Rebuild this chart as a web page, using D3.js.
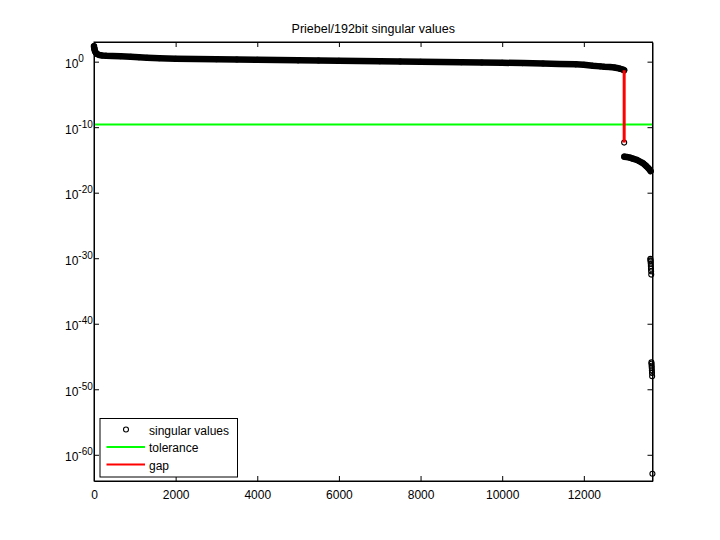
<!DOCTYPE html>
<html>
<head>
<meta charset="utf-8">
<script src="https://cdn.jsdelivr.net/npm/d3@7"></script>
<style>
  body { margin: 0; background: #fff; }
  text { font-family: "Liberation Sans", Arial, sans-serif; font-size: 12px; fill: #000; }
</style>
</head>
<body>
<svg id="chart" width="720" height="540"></svg>
<script>
// singular values (index, log10 of value)
var mainIdx = [0, 3, 8, 15, 25, 40, 60, 90, 130, 200, 300, 450, 650, 900, 1100, 1300, 1600, 2000, 2500, 3000,
  3500, 4000, 4500, 5000, 5500, 6000, 6500, 7000, 7500, 8000, 8500, 9000, 9500, 10000, 10500, 11000,
  11400, 11800, 12000, 12220, 12400, 12500, 12640, 12750, 12810, 12890, 12950, 12987];
var mainLog = [2.35, 2.2, 2.0, 1.8, 1.6, 1.4, 1.25, 1.12, 1.02, 0.95, 0.9, 0.86, 0.82, 0.75, 0.68, 0.6, 0.52, 0.45, 0.4, 0.37,
  0.34, 0.3, 0.25, 0.2, 0.17, 0.14, 0.1, 0.06, 0.02, -0.02, -0.06, -0.1, -0.13, -0.17, -0.22, -0.29,
  -0.35, -0.41, -0.47, -0.63, -0.72, -0.78, -0.83, -0.9, -0.96, -1.08, -1.2, -1.31];
var gapIdx = 12988, gapLog = -12.35;
var tailIdx = [12992, 13050, 13127, 13200, 13300, 13360, 13420, 13460, 13495, 13530, 13570, 13600, 13635];
var tailLog = [-14.5, -14.55, -14.65, -14.8, -15.0, -15.2, -15.4, -15.55, -15.75, -15.95, -16.2, -16.4, -16.7];
// the few smallest values, separate from the dense runs
var lowIdx = [13630, 13633, 13636, 13639, 13642, 13645, 13648, 13651,
  13655, 13658, 13661, 13664, 13667, 13670, 13673, 13680];
var lowLog = [-30.1, -30.3, -30.5, -30.8, -31.2, -31.6, -32.0, -32.5,
  -45.9, -46.1, -46.4, -46.7, -47.1, -47.5, -48.0, -62.9];
var tolLog = -9.6;
var nValues = 13682;
var xTicks = [0, 2000, 4000, 6000, 8000, 10000, 12000];
var yTickExp = [0, -10, -20, -30, -40, -50, -60];

var svg = d3.select("#chart"),
  margin = { top: 42, right: 67.5, bottom: 59, left: 94 },
  width = +svg.attr("width"),
  height = +svg.attr("height"),
  domainwidth = width - margin.left - margin.right,
  domainheight = height - margin.top - margin.bottom;

var x = d3.scaleLinear()
  .domain([0, nValues])
  .range([0, domainwidth]);
var y = d3.scaleLog()
  .domain([1e-64, 1e3])
  .range([domainheight, 0]);

function zip(ix, lg) {
  return ix.map(function (d, i) { return { i: d, v: Math.pow(10, lg[i]) }; });
}
var mainPts = zip(mainIdx, mainLog),
  tailPts = zip(tailIdx, tailLog),
  lowPts = zip(lowIdx, lowLog),
  gapPt = { i: gapIdx, v: Math.pow(10, gapLog) };

var g = svg.append("g")
  .attr("transform", "translate(" + margin.left + "," + margin.top + ")");

g.append("rect")
  .attr("width", domainwidth)
  .attr("height", domainheight)
  .attr("fill", "#fff");

// thousands of overlapping markers look like one thick black band
var band = d3.line()
  .x(function (d) { return x(d.i); })
  .y(function (d) { return y(d.v); });

[mainPts, tailPts].forEach(function (pts) {
  g.append("path")
    .attr("d", band(pts))
    .attr("fill", "none")
    .attr("stroke", "#000")
    .attr("stroke-width", 6.5)
    .attr("stroke-linecap", "round")
    .attr("stroke-linejoin", "round");
});

g.selectAll("circle.sv")
  .data(mainPts.concat([gapPt], tailPts, lowPts))
  .enter().append("circle")
  .attr("class", "sv")
  .attr("r", 2.5)
  .attr("cx", function (d) { return x(d.i); })
  .attr("cy", function (d) { return y(d.v); })
  .attr("fill", "none")
  .attr("stroke", "#000")
  .attr("stroke-width", 1.1);

// tolerance
g.append("line")
  .attr("x1", 0)
  .attr("x2", domainwidth)
  .attr("y1", y(Math.pow(10, tolLog)))
  .attr("y2", y(Math.pow(10, tolLog)))
  .attr("stroke", "#00ff00")
  .attr("stroke-width", 2);

// gap
g.append("line")
  .attr("x1", x(gapIdx))
  .attr("x2", x(gapIdx))
  .attr("y1", y(mainPts[mainPts.length - 1].v))
  .attr("y2", y(gapPt.v))
  .attr("stroke", "#ff0000")
  .attr("stroke-width", 3);

// axes, ticks pointing inward like matlab
g.append("g")
  .attr("class", "x axis")
  .attr("transform", "translate(0," + domainheight + ")")
  .call(d3.axisBottom(x).tickValues(xTicks).tickSizeInner(-5).tickSizeOuter(0).tickPadding(9)
    .tickFormat(function (d) { return d; }));
g.append("g")
  .attr("class", "x axis top")
  .call(d3.axisTop(x).tickValues(xTicks).tickSizeInner(-5).tickSizeOuter(0).tickFormat(""));

var yVals = yTickExp.map(function (e) { return Math.pow(10, e); });
var yAxis = g.append("g")
  .attr("class", "y axis")
  .call(d3.axisLeft(y).tickValues(yVals).tickSizeInner(-5).tickSizeOuter(0).tickFormat(""));
g.append("g")
  .attr("class", "y axis right")
  .attr("transform", "translate(" + domainwidth + ",0)")
  .call(d3.axisRight(y).tickValues(yVals).tickSizeInner(-5).tickSizeOuter(0).tickFormat(""));

g.selectAll(".axis path.domain").attr("stroke", "#000").attr("stroke-width", 1);
g.selectAll(".axis line").attr("stroke", "#000");
g.selectAll(".axis text").style("font-family", "Liberation Sans, Arial, sans-serif").style("font-size", "12px").attr("fill", "#000");

// y labels as 10 with superscript exponent
yAxis.selectAll(".tick").each(function (d, i) {
  var t = d3.select(this).append("text")
    .attr("x", -29)
    .attr("y", 6)
    .attr("text-anchor", "start")
    .style("font-size", "12px");
  t.append("tspan").text("10");
  t.append("tspan").attr("dy", -6).style("font-size", "10px").text(yTickExp[i]);
});

// box
g.append("rect")
  .attr("width", domainwidth)
  .attr("height", domainheight)
  .attr("fill", "none")
  .attr("stroke", "#000")
  .attr("stroke-width", 1);

// title
svg.append("text")
  .attr("x", margin.left + domainwidth / 2)
  .attr("y", 33)
  .attr("text-anchor", "middle")
  .style("font-size", "12.5px")
  .text("Priebel/192bit singular values");

// legend
var legend = g.append("g")
  .attr("transform", "translate(6," + (domainheight - 62.5) + ")");
legend.append("rect")
  .attr("width", 137.5)
  .attr("height", 58.5)
  .attr("fill", "#fff")
  .attr("stroke", "#000")
  .attr("stroke-width", 1);
legend.append("circle")
  .attr("cx", 26).attr("cy", 11).attr("r", 2.5)
  .attr("fill", "none").attr("stroke", "#000").attr("stroke-width", 1.1);
legend.append("line")
  .attr("x1", 6.5).attr("x2", 45).attr("y1", 28.5).attr("y2", 28.5)
  .attr("stroke", "#00ff00").attr("stroke-width", 2);
legend.append("line")
  .attr("x1", 6.5).attr("x2", 45).attr("y1", 46).attr("y2", 46)
  .attr("stroke", "#ff0000").attr("stroke-width", 2);
legend.selectAll("text.lbl")
  .data(["singular values", "tolerance", "gap"])
  .enter().append("text")
  .attr("class", "lbl")
  .attr("x", 49)
  .attr("y", function (d, i) { return 16 + i * 17.5; })
  .text(function (d) { return d; });
</script>
</body>
</html>
